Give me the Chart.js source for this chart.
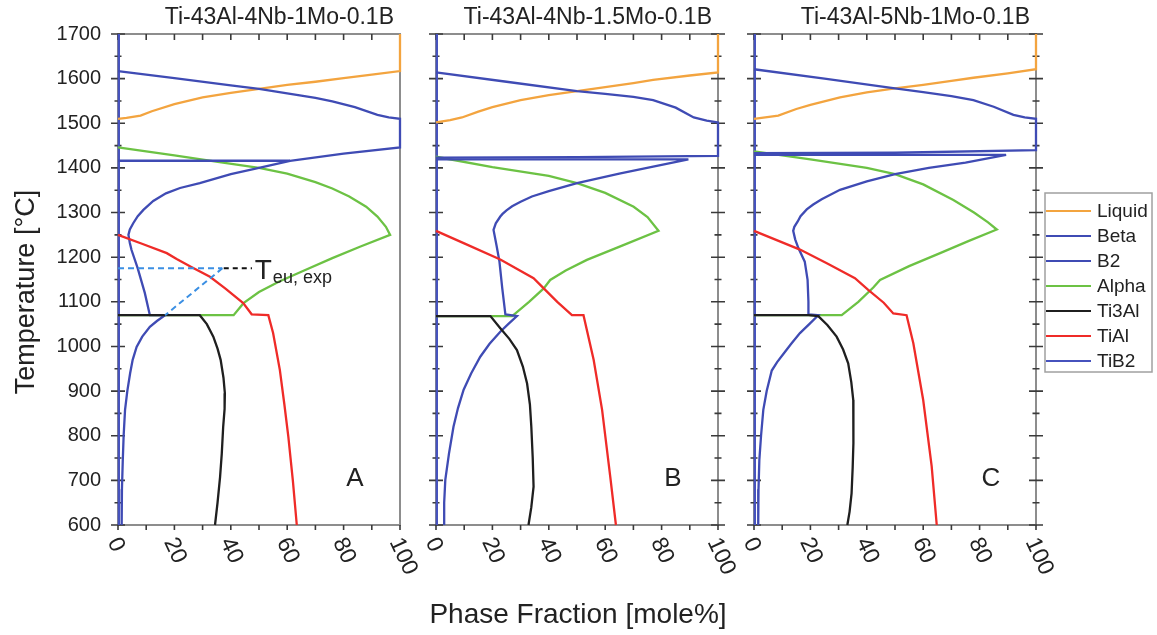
<!DOCTYPE html>
<html>
<head>
<meta charset="utf-8">
<script src="https://cdn.jsdelivr.net/npm/chart.js@4.4.1/dist/chart.umd.min.js"></script>
<style>
  html, body { margin: 0; padding: 0; background: #fff; }
  #wrap { position: relative; width: 1157px; height: 635px; overflow: hidden; background: #fff; }
  #wrap canvas { position: absolute; left: 0; top: 0; }
</style>
</head>
<body>
<div id="wrap">
  <canvas id="panelA" width="1157" height="635"></canvas>
  <canvas id="panelB" width="1157" height="635"></canvas>
  <canvas id="panelC" width="1157" height="635"></canvas>
</div>
<script>
// ---- labels ----
const panelTitles = ['Ti-43Al-4Nb-1Mo-0.1B', 'Ti-43Al-4Nb-1.5Mo-0.1B', 'Ti-43Al-5Nb-1Mo-0.1B'];
const panelLetters = ['A', 'B', 'C'];
const phaseNames = ['Liquid', 'Beta', 'B2', 'Alpha', 'Ti3Al', 'TiAl', 'TiB2'];
const xTickLabels = [0, 20, 40, 60, 80, 100];
const yTickLabels = [600, 700, 800, 900, 1000, 1100, 1200, 1300, 1400, 1500, 1600, 1700];

// ---- phase fractions [mole%, °C] : Ti-43Al-4Nb-1Mo-0.1B ----
const liquidA = [[0,1510],[3,1512],[8,1517],[12,1527],[20,1543],[30,1558],[40,1568],[50,1577],[60,1586],[70,1593],[80,1601],[90,1609],[100,1617],[100,1700]];
const betaA   = [[0,1617],[20,1601],[40,1585],[50,1577],[60,1567],[70,1557],[76,1549],[84,1536],[92,1519],[96,1513],[100,1510],[100,1446],[80,1432],[61,1416],[0,1416]];
const b2A     = [[61,1416],[50,1400],[40,1386],[29,1366],[22,1355],[17,1343],[12.5,1326],[9,1306],[7,1292],[5.4,1276],[4.2,1262],[3.7,1250],[4.2,1232],[4.8,1216],[7,1175],[9.5,1120],[11.3,1070],[16.7,1070],[13.8,1057],[11.3,1044],[8.6,1022],[6.6,999],[5.2,970],[4.3,940],[3.3,900],[2.5,858],[2,800],[1.7,746],[1.4,680],[1.3,600]];
const alphaA  = [[0,1446],[20,1428],[36,1413],[50,1400],[60,1387],[70,1368],[76,1354],[82,1336],[88,1313],[92,1291],[95,1268],[96.5,1250],[86,1224],[76,1198],[66,1170],[57,1145],[50,1122],[44.5,1097],[41,1070],[0,1070]];
const ti3alA  = [[0,1070],[29,1070],[31.5,1050],[33.8,1022],[35.3,995],[36.4,970],[37.4,930],[37.9,895],[37.8,860],[37.3,820],[36.8,760],[36.2,708],[35.3,650],[34.4,600]];
const tialA   = [[0,1250],[8.5,1230],[17.3,1209],[20.8,1196],[26,1178],[32.6,1156],[38,1130],[44.4,1097],[47.4,1072],[53.3,1070],[55,1030],[57.4,947],[59,870],[60.4,798],[62,700],[63.4,600]];
const tib2A   = [[0.3,600],[0.3,1700]];
// measured eutectoid temperature
const teuExpLevel = [[0,1175],[37,1175]];
const teuExpSlope = [[37,1175],[16.7,1070]];
const teuExpLead  = [[37.5,1175],[47.5,1175]];

// ---- Ti-43Al-4Nb-1.5Mo-0.1B ----
const liquidB = [[0,1502],[5,1507],[9.2,1513],[15,1526],[20,1536],[30,1552],[40,1563],[50,1572],[60,1581],[70,1590],[77,1597],[90,1607],[100,1614],[100,1700]];
const betaB   = [[0,1614],[25,1593],[50,1572],[60,1566],[70,1559],[77,1552],[85,1535],[91.4,1513],[96,1506],[100,1502],[100,1427],[50,1424],[0,1423]];
const b2B     = [[0,1419],[89.5,1419],[77,1403],[65,1387],[50,1366],[40,1348],[34,1336],[30,1324],[27,1314],[25,1305],[23.6,1297],[22.8,1291],[21.2,1276],[20.4,1261],[21.5,1225],[22.5,1190],[23.5,1130],[24.6,1072],[28.7,1068],[25.6,1050],[22.8,1033],[19,1006],[15.7,977],[12.5,940],[9.8,903],[7.8,862],[6.2,820],[4.6,760],[3.3,701],[2.9,650],[2.9,600]];
const alphaB  = [[0,1425],[20,1402],[40,1382],[50,1366],[60,1344],[70.1,1313],[75,1290],[78.9,1259],[66,1226],[53.5,1194],[46,1170],[40.5,1149],[38.2,1130],[33,1100],[27,1068],[0,1068]];
const ti3alB  = [[0,1068],[19.3,1068],[22.8,1041],[26,1017],[28.7,992],[30.8,955],[32.3,917],[33.3,870],[33.8,820],[34.3,750],[34.6,686],[33.8,640],[32.8,600]];
const tialB   = [[0,1259],[10,1231],[22.8,1195],[34.6,1153],[38.2,1130],[43,1100],[48.2,1070],[52.3,1070],[55.9,970],[58.9,858],[61.8,708],[63.8,600]];
const tib2B   = [[0.3,600],[0.3,1700]];

// ---- Ti-43Al-5Nb-1Mo-0.1B ----
const liquidC = [[0,1510],[4,1513],[8.6,1517],[15,1532],[20,1541],[30.5,1558],[40,1569],[50,1578],[60,1586],[70,1595],[77.8,1602],[90,1612],[100,1621],[100,1700]];
const betaC   = [[0,1621],[25,1600],[50,1578],[60,1570],[70,1561],[77.8,1552],[85,1537],[92,1519],[96,1513],[100,1510],[100,1440],[50,1434],[0,1433]];
const b2C     = [[0,1429],[89.4,1429],[75,1412],[62,1400],[50,1386],[40,1370],[30.5,1351],[24,1330],[21,1318],[18.7,1307],[16.5,1292],[15.5,1280],[14.3,1268],[13.9,1259],[14.6,1240],[15.7,1221],[18,1190],[19,1149],[19.3,1100],[19.3,1072],[22.8,1070],[19.6,1050],[16.3,1030],[13.2,1006],[10.4,983],[8.2,965],[6.3,946],[4.5,900],[3.3,858],[2.5,800],[1.9,746],[1.6,680],[1.5,600]];
const alphaC  = [[0,1437],[20,1419],[40,1400],[50,1386],[60,1363],[70.7,1328],[78,1300],[83,1278],[86.1,1262],[76,1236],[66,1209],[55,1180],[44.7,1149],[42.3,1132],[37,1100],[31.1,1070],[0,1070]];
const ti3alC  = [[0,1070],[19.3,1070],[22.8,1068],[26,1048],[29.3,1022],[31.6,993],[33.4,962],[34.5,920],[35.2,880],[35.3,830],[35.2,783],[35,730],[34.6,671],[33.9,630],[33.1,600]];
const tialC   = [[0,1259],[16.3,1217],[26,1186],[35.8,1153],[40.5,1127],[46,1098],[49.4,1074],[54.1,1070],[56.5,1007],[60,880],[63,732],[64.8,600]];
const tib2C   = [[0.3,600],[0.3,1700]];

// ---- styling ----
const FONT = '"Liberation Sans", Arial, Helvetica, sans-serif';
const TEXT = '#222222';
const phaseColors = {
  Liquid: '#f3a43f',
  Beta:   '#3f4bb4',
  B2:     '#3f4bb4',
  Alpha:  '#6cc244',
  Ti3Al:  '#1f1f1f',
  TiAl:   '#ef2b28',
  TiB2:   '#4652bd'
};
// draw order: smaller value is painted later (on top)
const phaseOrder = { TiB2: 7, Liquid: 6, Alpha: 5, Beta: 4, B2: 3, TiAl: 2, Ti3Al: 1 };

function toPoints(arr) { return arr.map(p => ({ x: p[0], y: p[1] })); }

function phaseSet(name, arr) {
  return {
    label: name,
    data: toPoints(arr),
    borderColor: phaseColors[name],
    backgroundColor: phaseColors[name],
    borderWidth: 2.3,
    pointRadius: 0,
    showLine: true,
    fill: false,
    tension: 0,
    clip: false,
    order: phaseOrder[name]
  };
}

function dashedSet(name, arr, color, dash) {
  return {
    label: name,
    data: toPoints(arr),
    borderColor: color,
    borderWidth: 2,
    borderDash: dash,
    pointRadius: 0,
    showLine: true,
    fill: false,
    clip: false,
    order: 0
  };
}

function panelSets(liq, beta, b2, alpha, ti3al, tial, tib2) {
  const all = [liq, beta, b2, alpha, ti3al, tial, tib2];
  return phaseNames.map((n, i) => phaseSet(n, all[i]));
}

// frame, ticks and text for one panel
function panelDecor(idx, o) {
  return {
    id: 'panelDecor' + idx,
    beforeDatasetsDraw(chart) {
      const { ctx, chartArea: a } = chart;
      const xs = chart.scales.x, ys = chart.scales.y;
      ctx.save();
      ctx.strokeStyle = '#8d8d8d';
      ctx.lineWidth = 2;
      ctx.strokeRect(a.left, a.top, a.right - a.left, a.bottom - a.top);

      ctx.strokeStyle = '#3a3a3a';
      ctx.lineWidth = 1.6;
      ctx.beginPath();
      for (let i = 0; i < yTickLabels.length; i++) {
        const vals = [yTickLabels[i]];
        if (i < yTickLabels.length - 1) vals.push((yTickLabels[i] + yTickLabels[i + 1]) / 2);
        vals.forEach((t, k) => {
          const y = ys.getPixelForValue(t);
          const h = k === 0 ? 7 : 3.5;
          ctx.moveTo(a.left - h, y); ctx.lineTo(a.left + h, y);
          if (o.rightTicks) { ctx.moveTo(a.right - h, y); ctx.lineTo(a.right + h, y); }
        });
      }
      for (let i = 0; i < xTickLabels.length; i++) {
        const vals = [xTickLabels[i]];
        if (i < xTickLabels.length - 1) vals.push((xTickLabels[i] + xTickLabels[i + 1]) / 2);
        vals.forEach(v => {
          const x = xs.getPixelForValue(v);
          ctx.moveTo(x, a.bottom); ctx.lineTo(x, a.bottom + 5);
          ctx.moveTo(x, a.top); ctx.lineTo(x, a.top + 6);
        });
      }
      ctx.stroke();
      ctx.restore();
    },
    afterDatasetsDraw(chart) {
      const { ctx, chartArea: a } = chart;
      const xs = chart.scales.x, ys = chart.scales.y;
      ctx.save();
      ctx.fillStyle = TEXT;

      // panel title
      ctx.font = '23px ' + FONT;
      ctx.textAlign = 'right';
      ctx.textBaseline = 'middle';
      ctx.fillText(panelTitles[idx], a.right - 6, 18);

      // panel letter
      ctx.font = '26px ' + FONT;
      ctx.textAlign = 'center';
      ctx.fillText(panelLetters[idx], xs.getPixelForValue(84), ys.getPixelForValue(703));

      // rotated x tick labels
      ctx.font = '23px ' + FONT;
      ctx.textAlign = 'left';
      ctx.textBaseline = 'middle';
      xTickLabels.forEach(v => {
        const x = xs.getPixelForValue(v);
        ctx.save();
        ctx.translate(x - 5, a.bottom + 14);
        ctx.rotate(65 * Math.PI / 180);
        ctx.fillText(String(v), 0, 0);
        ctx.restore();
      });

      if (o.yLabels) {
        ctx.font = '20px ' + FONT;
        ctx.textAlign = 'right';
        ctx.textBaseline = 'middle';
        yTickLabels.forEach(t => ctx.fillText(String(t), a.left - 17, ys.getPixelForValue(t)));
      }

      if (o.shared) {
        // axis titles
        ctx.font = '28px ' + FONT;
        ctx.textAlign = 'center';
        ctx.textBaseline = 'middle';
        ctx.fillText('Phase Fraction [mole%]', 578, 615);
        ctx.font = '27px ' + FONT;
        ctx.save();
        ctx.translate(27, 292);
        ctx.rotate(-Math.PI / 2);
        ctx.fillText('Temperature [°C]', 0, 0);
        ctx.restore();

        // label of the measured eutectoid temperature
        const lx = xs.getPixelForValue(48.5), ly = ys.getPixelForValue(1175);
        ctx.textAlign = 'left';
        ctx.textBaseline = 'alphabetic';
        ctx.font = '28px ' + FONT;
        ctx.fillText('T', lx, ly + 11);
        const tw = ctx.measureText('T').width;
        ctx.font = '18px ' + FONT;
        ctx.fillText('eu, exp', lx + tw + 1, ly + 15);
      }

      if (o.legend) {
        const bx = 1045, by = 193, bw = 107, bh = 179;
        ctx.fillStyle = '#ffffff';
        ctx.fillRect(bx, by, bw, bh);
        ctx.strokeStyle = '#a0a0a0';
        ctx.lineWidth = 1.5;
        ctx.strokeRect(bx, by, bw, bh);
        ctx.font = '19px ' + FONT;
        ctx.textAlign = 'left';
        ctx.textBaseline = 'middle';
        phaseNames.forEach((n, i) => {
          const y = by + 18 + i * 25;
          ctx.strokeStyle = phaseColors[n];
          ctx.lineWidth = 2.2;
          ctx.beginPath();
          ctx.moveTo(bx + 1, y); ctx.lineTo(bx + 46, y);
          ctx.stroke();
          ctx.fillStyle = TEXT;
          ctx.fillText(n, bx + 52, y + 1);
        });
      }
      ctx.restore();
    }
  };
}

function makePanel(canvasId, idx, datasets, padding, o) {
  return new Chart(document.getElementById(canvasId), {
    type: 'scatter',
    data: { datasets },
    options: {
      responsive: false,
      animation: false,
      events: [],
      layout: { padding },
      plugins: { legend: { display: false }, tooltip: { enabled: false } },
      scales: {
        x: { type: 'linear', min: 0, max: 100, display: false },
        y: { type: 'linear', min: 600, max: 1700, display: false }
      }
    },
    plugins: [panelDecor(idx, o)]
  });
}

const setsA = panelSets(liquidA, betaA, b2A, alphaA, ti3alA, tialA, tib2A).concat([
  dashedSet('Teu exp', teuExpLevel, '#3b8fe3', [6, 4]),
  dashedSet('Teu exp slope', teuExpSlope, '#3b8fe3', [6, 4]),
  dashedSet('Teu exp lead', teuExpLead, '#111111', [5, 4])
]);
const setsB = panelSets(liquidB, betaB, b2B, alphaB, ti3alB, tialB, tib2B);
const setsC = panelSets(liquidC, betaC, b2C, alphaC, ti3alC, tialC, tib2C);

makePanel('panelA', 0, setsA, { left: 118, right: 757, top: 34, bottom: 110 }, { yLabels: true, shared: true });
makePanel('panelB', 1, setsB, { left: 436, right: 439, top: 34, bottom: 110 }, { rightTicks: true });
makePanel('panelC', 2, setsC, { left: 754, right: 121, top: 34, bottom: 110 }, { rightTicks: true, legend: true });
</script>
</body>
</html>
